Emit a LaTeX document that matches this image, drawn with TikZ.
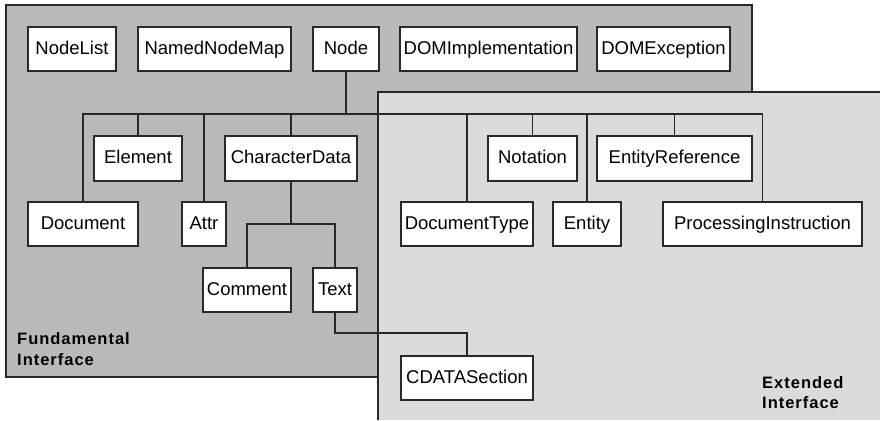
\documentclass[tikz,border=0pt]{standalone}
\usepackage{fontspec}
\setmainfont{Liberation Sans}
\definecolor{fundgray}{RGB}{185,185,185}
\definecolor{extgray}{RGB}{219,219,219}
\definecolor{linegray}{RGB}{40,40,40}
\tikzset{
  box/.style={draw=linegray, line width=1.6pt, fill=white, inner sep=0pt, text height=13.3pt, text depth=3.2pt, font=\fontsize{18.5}{20}\selectfont},
  conn/.style={draw=linegray, line width=1.6pt},
  area/.style={draw=linegray, line width=1.6pt},
  lbl/.style={anchor=base west, inner sep=0pt, font=\fontsize{16.5}{20}\selectfont\bfseries\addfontfeature{LetterSpace=6}}
}
\newcommand{\bx}[6]{% name, x1, y1, x2, y2, text
  \node[box, minimum width={(#4-#2)*1pt}, minimum height={(#5-#3)*1pt}] (#1) at ({(#2+#4)/2*1pt},{-(#3+#5)/2*1pt}) {#6};}
\begin{document}
\begin{tikzpicture}[x=1pt,y=-1pt]
\useasboundingbox (0,0) rectangle (880,420);
% areas
\fill[fundgray] (6,5) rectangle (752,377);
\draw[area] (6,5) rectangle (752,377);
\fill[extgray] (378,92) rectangle (880,420);
\draw[area] (378,420) -- (378,92) -- (880,92);
% nodes
\bx{NodeList}{28}{27}{116}{71}{NodeList}
\bx{NamedNodeMap}{138}{27}{291}{71}{NamedNodeMap}
\bx{Node}{313}{27}{379}{71}{Node}
\bx{DOMImplementation}{400}{27}{577}{71}{DOMImplementation}
\bx{DOMException}{597}{27}{730}{71}{DOMException}
\bx{Element}{94}{136}{182}{181}{Element}
\bx{CharacterData}{225}{136}{357}{181}{CharacterData}
\bx{Notation}{488}{136}{577}{181}{Notation}
\bx{EntityReference}{597}{136}{752}{181}{EntityReference}
\bx{Document}{28}{202}{138}{246}{Document}
\bx{Attr}{182}{202}{226}{246}{Attr}
\bx{DocumentType}{401}{202}{533}{246}{DocumentType}
\bx{Entity}{553}{202}{621}{246}{Entity}
\bx{ProcessingInstruction}{663}{202}{862}{246}{ProcessingInstruction}
\bx{Comment}{203}{268}{291}{312}{Comment}
\bx{Text}{313}{268}{357}{312}{Text}
\bx{CDATASection}{401}{356}{533}{400}{CDATASection}
% connectors
\coordinate (bus) at (346,114);
\draw[conn] (Node.south) -- (bus);
\foreach \c in {Document,Element,Attr,CharacterData,DocumentType,Notation,Entity,EntityReference,ProcessingInstruction}
  \draw[conn] (bus) -| (\c.north);
\coordinate (cdj) at (CharacterData.south |- 0,224);
\draw[conn] (CharacterData.south) -- (cdj);
\draw[conn] (cdj) -| (Comment.north);
\draw[conn] (cdj) -| (Text.north);
\coordinate (tc) at (Text.south |- 0,333);
\draw[conn] (Text.south) -- (tc) -| (CDATASection.north);
% labels
\node[lbl] (fund1) at (17,344) {Fundamental};
\node[lbl] (fund2) at (17,365) {Interface};
\node[lbl] (ext1) at (762,388) {Extended};
\node[lbl] (ext2) at (762,408) {Interface};
\end{tikzpicture}
\end{document}
